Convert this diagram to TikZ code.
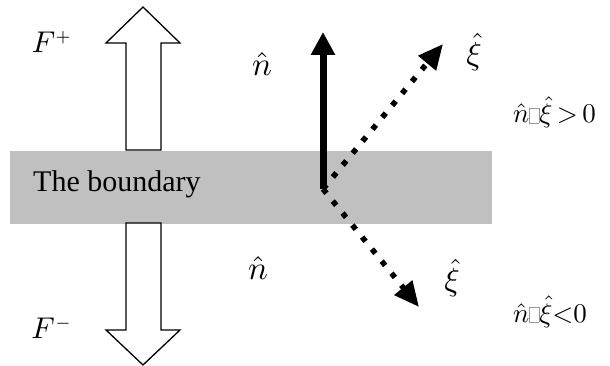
\documentclass[tikz,border=0pt]{standalone}
\usepackage{graphicx}
\usepackage{fontspec}
\setmainfont{Liberation Serif}
\usetikzlibrary{arrows.meta}
\definecolor{bandgray}{RGB}{192,192,192}
% math at picture size
\newcommand{\picmath}[2][2.8]{\scalebox{#1}{#2}}
% stand-in for the glyph the original could not print
\newcommand{\nobox}{{\color{gray!80}\setlength{\fboxrule}{0.25pt}\setlength{\fboxsep}{0pt}\fbox{\rule{0pt}{5.3pt}\hspace{3.2pt}}}}

\begin{document}
\begin{tikzpicture}[
  x=1pt, y=-1pt,
  lbl/.style={inner sep=0pt},
  flux/.style={draw=black, line width=1.3pt, fill=white, line join=miter},
  normal/.style={line width=7pt, -{Triangle[length=23pt, width=23pt]}},
  dir/.style={line width=5.5pt, dash pattern=on 5.5pt off 10pt,
              -{Triangle[length=25pt, width=22pt]}}
]
\useasboundingbox (0,0) rectangle (610,366);

% the boundary layer
\fill[bandgray] (10,151) rectangle (492,224);
\node[lbl, anchor=base west, font=\fontsize{30}{36}\selectfont] (bnd) at (33,192) {The boundary};

% flux arrows
\draw[flux] (126,150) -- (126,43) -- (106,43) -- (143,7) -- (180,43) -- (161,43) -- (161,150) -- cycle;
\draw[flux] (126,223) -- (126,330) -- (106,330) -- (143,365) -- (180,330) -- (161,330) -- (161,223) -- cycle;
\node[lbl] (fp) at (52,42) {\picmath[3]{$F^{\scriptscriptstyle +}$}};
\node[lbl] (fm) at (52,328) {\picmath[3]{$F^{\scriptscriptstyle -}$}};

% vectors from the boundary point
\coordinate (o) at (323,189);
\coordinate (ntip) at (323,32);
\coordinate (xup) at (443,44);
\coordinate (xdn) at (419,307);
\draw[normal] (o) -- (ntip);
\draw[dir] (o) -- (xup);
\draw[dir] (o) -- (xdn);

\node[lbl] (nup) at (262,64) {\picmath[3.3]{$\hat{n}$}};
\node[lbl] (xiup) at (474,52) {\picmath[3.2]{$\hat{\xi}$}};
\node[lbl] (ndn) at (258,268) {\picmath[3.3]{$\hat{n}$}};
\node[lbl] (xidn) at (452,278) {\picmath[3.2]{$\hat{\xi}$}};

\node[lbl, anchor=base west] (pos) at (513,123) {\picmath[2.7]{$\hat{n}$\nobox$\hat{\xi}\,{>}\,0$}};
\node[lbl, anchor=base west] (neg) at (513,322) {\picmath[2.7]{$\hat{n}$\nobox$\hat{\xi}{<}0$}};

\end{tikzpicture}
\end{document}
